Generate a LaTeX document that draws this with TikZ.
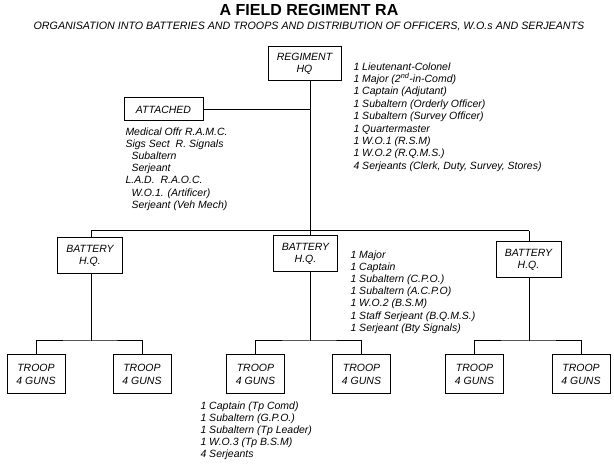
\documentclass[tikz,border=0pt]{standalone}
\usepackage{fontspec}
\setmainfont{Liberation Sans}
\begin{document}
\begin{tikzpicture}[x=1pt,y=-1pt,
  line width=1pt,
  unit/.style={draw, line width=1pt, inner sep=0pt, align=center,
    font=\itshape\fontsize{10.5}{12.5}\selectfont},
  troopbox/.style={unit, minimum width=58pt, minimum height=39pt},
  batbox/.style={unit, minimum width=65pt, minimum height=36pt},
  lst/.style={anchor=north west, inner sep=0pt, align=left,
    font=\itshape\fontsize{10.5}{12.4}\selectfont}]
\fill[white] (0,0) rectangle (614,465);
\useasboundingbox (0,0) rectangle (614,465);

% titles
\node[font=\bfseries\fontsize{16}{19}\selectfont, inner sep=0pt] (title) at (309,9.5) {A FIELD REGIMENT RA};
\node[font=\itshape\fontsize{10.7}{12}\selectfont, inner sep=0pt] (subtitle) at (309,26.5)
  {ORGANISATION INTO BATTERIES AND TROOPS AND DISTRIBUTION OF OFFICERS, W.O.s AND SERJEANTS};

% boxes
\node[unit, minimum width=73pt, minimum height=34pt] (reg) at (304.5,64) {REGIMENT\\HQ};
\node[unit, minimum width=79pt, minimum height=23pt] (att) at (163.5,109.5) {ATTACHED};
\node[batbox] (batL) at (90,256) {BATTERY\\H.Q.};
\node[batbox, minimum width=64pt] (batM) at (305.5,254) {BATTERY\\H.Q.};
\node[batbox] (batR) at (528.5,260) {BATTERY\\H.Q.};
\node[troopbox] (tL1) at (36,374.5) {TROOP\\4 GUNS};
\node[troopbox] (tL2) at (142,374.5) {TROOP\\4 GUNS};
\node[troopbox] (tM1) at (255.5,374.5) {TROOP\\4 GUNS};
\node[troopbox] (tM2) at (361.5,374.5) {TROOP\\4 GUNS};
\node[troopbox] (tR1) at (474.5,374.5) {TROOP\\4 GUNS};
\node[troopbox] (tR2) at (581,374.5) {TROOP\\4 GUNS};

% lists
\node[lst] (reglist) at (353,62) {1 Lieutenant-Colonel\\
1 Major (2\textsuperscript{nd}-in-Comd)\\
1 Captain (Adjutant)\\
1 Subaltern (Orderly Officer)\\
1 Subaltern (Survey Officer)\\
1 Quartermaster\\
1 W.O.1 (R.S.M)\\
1 W.O.2 (R.Q.M.S.)\\
4 Serjeants (Clerk, Duty, Survey, Stores)};
\node[lst, font=\itshape\fontsize{10.5}{12.2}\selectfont] (attlist) at (125,127) {Medical Offr R.A.M.C.\\
Sigs Sect\ \ R. Signals\\
\hspace*{6pt}Subaltern\\
\hspace*{6pt}Serjeant\\
L.A.D.\ \ R.A.O.C.\\
\hspace*{6pt}W.O.1. (Artificer)\\
\hspace*{6pt}Serjeant (Veh Mech)};
\node[lst, font=\itshape\fontsize{10.5}{12.2}\selectfont] (batlist) at (350,250) {1 Major\\
1 Captain\\
1 Subaltern (C.P.O.)\\
1 Subaltern (A.C.P.O)\\
1 W.O.2 (B.S.M)\\
1 Staff Serjeant (B.Q.M.S.)\\
1 Serjeant (Bty Signals)};
\node[lst, font=\itshape\fontsize{10.5}{12}\selectfont] (trooplist) at (200,401) {1 Captain (Tp Comd)\\
1 Subaltern (G.P.O.)\\
1 Subaltern (Tp Leader)\\
1 W.O.3 (Tp B.S.M)\\
4 Serjeants};

% junctions
\coordinate (jA) at (310,109.5);
\coordinate (jB) at (310,231);
\coordinate (bL) at (91,231);
\coordinate (bR) at (529,231);
\coordinate (sL) at (91,341);
\coordinate (sM) at (310,341);
\coordinate (sR) at (529,341);

% connectors
\draw (reg.south -| jB) -- (jB);
\draw (att.east) -- (jA);
\draw (bL) -- (bR);
\draw (bL) -- (batL.north -| bL);
\draw (jB) -- (batM.north -| jB);
\draw (bR) -- (batR.north -| bR);
\draw (batL.south -| sL) -- (sL);
\draw (batM.south -| sM) -- (sM);
\draw (batR.south -| sR) -- (sR);
\draw (tL1.north) |- (sL) -| (tL2.north);
\draw (tM1.north) |- (sM) -| (tM2.north);
\draw (tR1.north) |- (sR) -| (tR2.north);
\end{tikzpicture}
\end{document}
